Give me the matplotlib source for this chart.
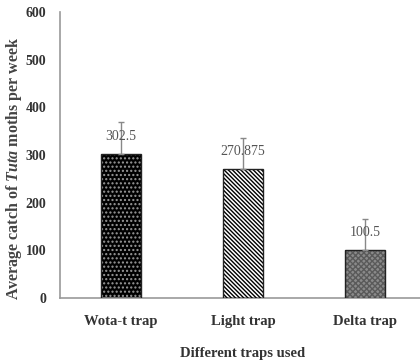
import matplotlib
matplotlib.use("Agg")
import matplotlib.pyplot as plt

categories = ["Wota-t trap", "Light trap", "Delta trap"]
values = [302.5, 270.875, 100.5]
errors = [67, 65, 65]
value_labels = ["302.5", "270.875", "100.5"]
yticks = [0, 100, 200, 300, 400, 500, 600]

plt.rcParams['font.family'] = ['Liberation Serif', 'DejaVu Serif']
plt.rcParams['hatch.linewidth'] = 1.0
plt.rcParams['mathtext.fontset'] = 'custom'
plt.rcParams['mathtext.rm'] = 'Liberation Serif'
plt.rcParams['mathtext.it'] = 'Liberation Serif:italic'
plt.rcParams['mathtext.bf'] = 'Liberation Serif:bold'
plt.rcParams['mathtext.bfit'] = 'Liberation Serif:italic:bold'

fig = plt.figure(figsize=(4.2, 3.63), dpi=100)
ax = fig.add_axes([60/420, 1-298/363, 366/420, 286/363])

x = list(range(len(categories)))
w = 0.33
faces = ['black', 'white', '#8a8a8a']
hatches = ['....', '\\' * 8, 'xxxxxx']
hcols = ['#9a9a9a', 'black', '#5a5a5a']
for i in x:
    ax.bar(i, values[i], width=w, color=faces[i], edgecolor='none', zorder=2)
    ax.bar(i, values[i], width=w, color='none', edgecolor=hcols[i], hatch=hatches[i],
           linewidth=0, zorder=3)
    ax.bar(i, values[i], width=w, color='none', edgecolor='#222222', linewidth=1.0, zorder=4)
    ax.errorbar(i, values[i], yerr=[[0], [errors[i]]], fmt='none', ecolor='#888888',
                elinewidth=1.0, capsize=2.5, capthick=1.0, zorder=5)
    ax.annotate(value_labels[i], (i, values[i]), xytext=(0, 8), textcoords='offset points',
                ha='center', va='bottom', fontsize=10, color='#555555', zorder=6)

ax.set_xlim(-0.5, 2.5)
ax.set_ylim(0, 600)
ax.set_yticks(yticks)
ax.set_xticks(x)
ax.set_xticklabels(categories, fontsize=10.5, fontweight='bold', color='#333333')
for t in ax.get_yticklabels():
    t.set_fontsize(10); t.set_fontweight('bold'); t.set_color('#333333')
ax.tick_params(length=0, pad=10)
ax.tick_params(axis='x', pad=12)
for s in ['top', 'right']:
    ax.spines[s].set_visible(False)
for s in ['left', 'bottom']:
    ax.spines[s].set_color('#999999')
    ax.spines[s].set_linewidth(1.2)

ax.set_xlabel("Different traps used", fontsize=10.5, fontweight='bold', color='#333333', labelpad=14)
ax.set_ylabel(r"Average catch of $\mathbfit{Tuta}$ moths per week", fontsize=11.5,
              fontweight='bold', color='#444444')
ax.yaxis.set_label_coords(-0.097, 0.455)

fig.savefig("out.png", dpi=100, facecolor='white')
